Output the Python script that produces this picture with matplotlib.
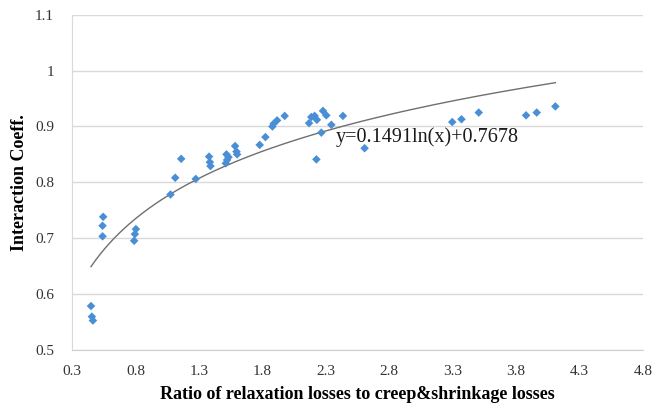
import matplotlib.pyplot as plt
import numpy as np

# ratio of relaxation losses to creep & shrinkage losses
ratio = [0.450, 0.457, 0.465, 0.546, 0.541, 0.541, 0.804, 0.796, 0.790,
         1.077, 1.114, 1.161, 1.276, 1.381, 1.387, 1.392,
         1.513, 1.523, 1.518, 1.534, 1.586, 1.597, 1.602,
         1.780, 1.825, 1.880, 1.890, 1.917, 1.977,
         2.169, 2.187, 2.213, 2.231, 2.279, 2.305, 2.345, 2.436, 2.266, 2.227, 2.607,
         3.298, 3.371, 3.507, 3.880, 3.964, 4.111]
coeff = [0.578, 0.559, 0.552, 0.738, 0.722, 0.703, 0.716, 0.707, 0.695,
         0.778, 0.808, 0.842, 0.806, 0.846, 0.836, 0.829,
         0.834, 0.840, 0.850, 0.845, 0.865, 0.855, 0.850,
         0.867, 0.881, 0.900, 0.905, 0.911, 0.919,
         0.906, 0.917, 0.919, 0.912, 0.928, 0.920, 0.903, 0.919, 0.889, 0.841, 0.861,
         0.908, 0.913, 0.925, 0.920, 0.925, 0.936]

fit_a, fit_b = 0.1491, 0.7678
x_ticks = [0.3, 0.8, 1.3, 1.8, 2.3, 2.8, 3.3, 3.8, 4.3, 4.8]
y_ticks = [0.5, 0.6, 0.7, 0.8, 0.9, 1.0, 1.1]
y_labels = ['0.5', '0.6', '0.7', '0.8', '0.9', '1', '1.1']

plt.rcParams['font.family'] = ['Liberation Serif', 'DejaVu Serif']

fig = plt.figure(figsize=(6.64, 4.05), dpi=100)
ax = fig.add_axes([0.1084, 0.137, 0.8596, 0.826])

xs = np.linspace(min(ratio), max(ratio), 200)
ax.plot(xs, fit_a * np.log(xs) + fit_b, color='#6f6f6f', lw=1.0, zorder=2)
ax.scatter(ratio, coeff, marker='D', s=19, color='#4a8fd6', edgecolors='none', zorder=3)

ax.text(2.379, 0.881, 'y=0.1491ln(x)+0.7678', fontsize=14.5, ha='left', va='center',
        color='#1a1a1a', zorder=4)

ax.set_xlim(0.3, 4.8)
ax.set_ylim(0.5, 1.1)
ax.set_xticks(x_ticks)
ax.set_xticklabels([str(t) for t in x_ticks])
ax.set_yticks(y_ticks)
ax.set_yticklabels(y_labels)
ax.tick_params(length=0, labelsize=11, colors='#333333')
ax.tick_params(axis='x', pad=11)
ax.tick_params(axis='y', pad=13)

ax.grid(axis='y', color='#d9d9d9', lw=1.0)
ax.set_axisbelow(True)
for s in ['top', 'right']:
    ax.spines[s].set_visible(False)
ax.spines['left'].set_color('#d9d9d9')
ax.spines['bottom'].set_color('#d0d0d0')

ax.set_xlabel('Ratio of relaxation losses to creep&shrinkage losses',
              fontsize=13, fontweight='bold', labelpad=6)
ax.set_ylabel('Interaction Coeff.', fontsize=13, fontweight='bold', labelpad=5)

fig.savefig('out.png', dpi=100)
